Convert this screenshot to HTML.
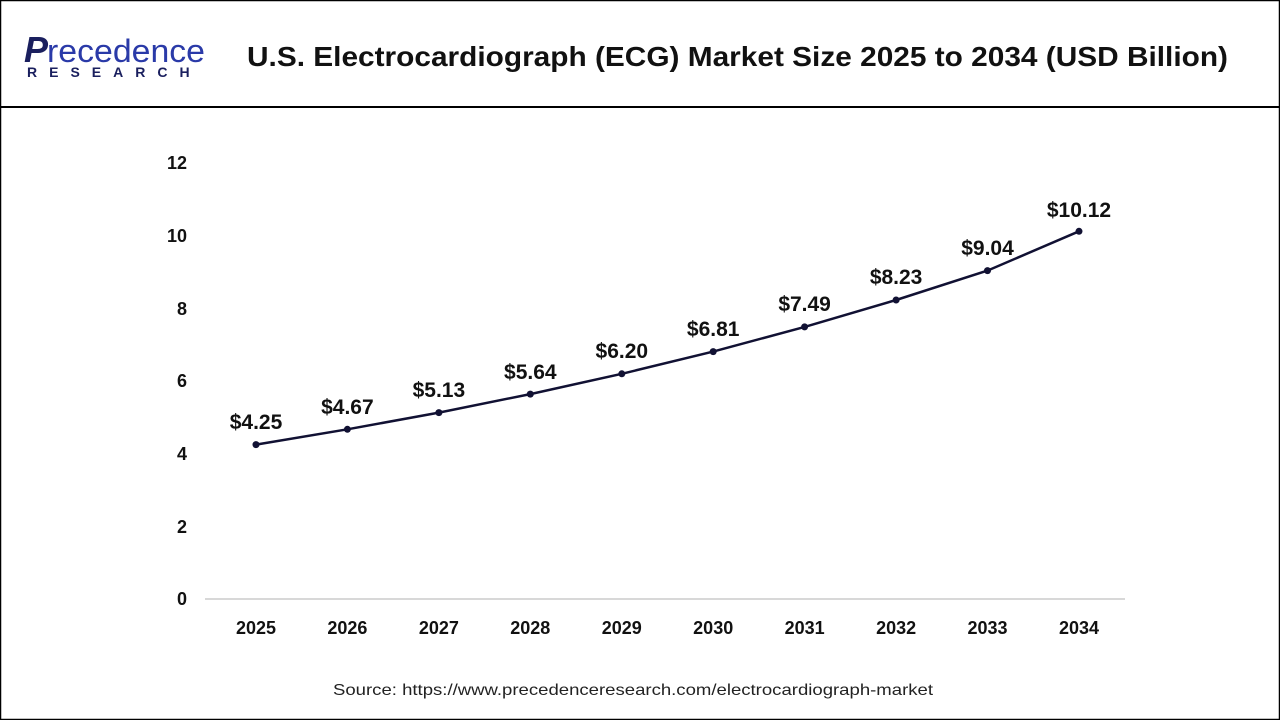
<!DOCTYPE html>
<html><head><meta charset="utf-8"><style>
body{margin:0;width:1280px;height:720px;overflow:hidden;background:#fff;font-family:"Liberation Sans",Arial,sans-serif}
</style></head><body>
<svg width="1280" height="720" xmlns="http://www.w3.org/2000/svg" font-family="Liberation Sans, Arial, sans-serif">
<rect x="0.5" y="0.5" width="1279" height="719" fill="#fff" stroke="#000" stroke-width="1.5"/>
<line x1="0" y1="107" x2="1280" y2="107" stroke="#000" stroke-width="2"/>
<text x="24" y="62" font-size="36" fill="#1a1f5e" font-weight="bold" font-style="italic">P</text>
<text x="47" y="62" font-size="32" fill="#2a3aa8" textLength="158" lengthAdjust="spacingAndGlyphs">recedence</text>
<text x="27" y="77" font-size="14" font-weight="bold" fill="#1a1f5e" letter-spacing="12">RESEARCH</text>
<text x="247" y="66" font-size="28" font-weight="bold" fill="#111" textLength="981" lengthAdjust="spacingAndGlyphs">U.S. Electrocardiograph (ECG) Market Size 2025 to 2034 (USD Billion)</text>
<g font-size="18" font-weight="bold" fill="#111" text-anchor="end">
<text x="187" y="605">0</text><text x="187" y="533">2</text><text x="187" y="460">4</text><text x="187" y="387">6</text><text x="187" y="315">8</text><text x="187" y="242">10</text><text x="187" y="169">12</text>
</g>
<line x1="205" y1="599" x2="1125" y2="599" stroke="#ccc" stroke-width="1.5"/>
<g font-size="18" font-weight="bold" fill="#111" text-anchor="middle">
<text x="256" y="634">2025</text><text x="347.4" y="634">2026</text><text x="438.9" y="634">2027</text><text x="530.3" y="634">2028</text><text x="621.8" y="634">2029</text><text x="713.2" y="634">2030</text><text x="804.6" y="634">2031</text><text x="896.1" y="634">2032</text><text x="987.5" y="634">2033</text><text x="1079" y="634">2034</text>
</g>
<polyline fill="none" stroke="#111133" stroke-width="2.5" points="256,444.6 347.4,429.3 438.9,412.6 530.3,394.1 621.8,373.8 713.2,351.6 804.6,326.9 896.1,300 987.5,270.6 1079,231.3"/>
<g fill="#111133">
<circle cx="256" cy="444.6" r="3.5"/><circle cx="347.4" cy="429.3" r="3.5"/><circle cx="438.9" cy="412.6" r="3.5"/><circle cx="530.3" cy="394.1" r="3.5"/><circle cx="621.8" cy="373.8" r="3.5"/><circle cx="713.2" cy="351.6" r="3.5"/><circle cx="804.6" cy="326.9" r="3.5"/><circle cx="896.1" cy="300" r="3.5"/><circle cx="987.5" cy="270.6" r="3.5"/><circle cx="1079" cy="231.3" r="3.5"/>
</g>
<g font-size="21" font-weight="bold" fill="#111" text-anchor="middle">
<text x="256" y="429">$4.25</text><text x="347.4" y="414">$4.67</text><text x="438.9" y="397">$5.13</text><text x="530.3" y="379">$5.64</text><text x="621.8" y="358">$6.20</text><text x="713.2" y="336">$6.81</text><text x="804.6" y="311">$7.49</text><text x="896.1" y="284">$8.23</text><text x="987.5" y="255">$9.04</text><text x="1079" y="217">$10.12</text>
</g>
<text x="333" y="695" font-size="16" fill="#222" textLength="600" lengthAdjust="spacingAndGlyphs">Source: https://www.precedenceresearch.com/electrocardiograph-market</text>
</svg>
</body></html>
